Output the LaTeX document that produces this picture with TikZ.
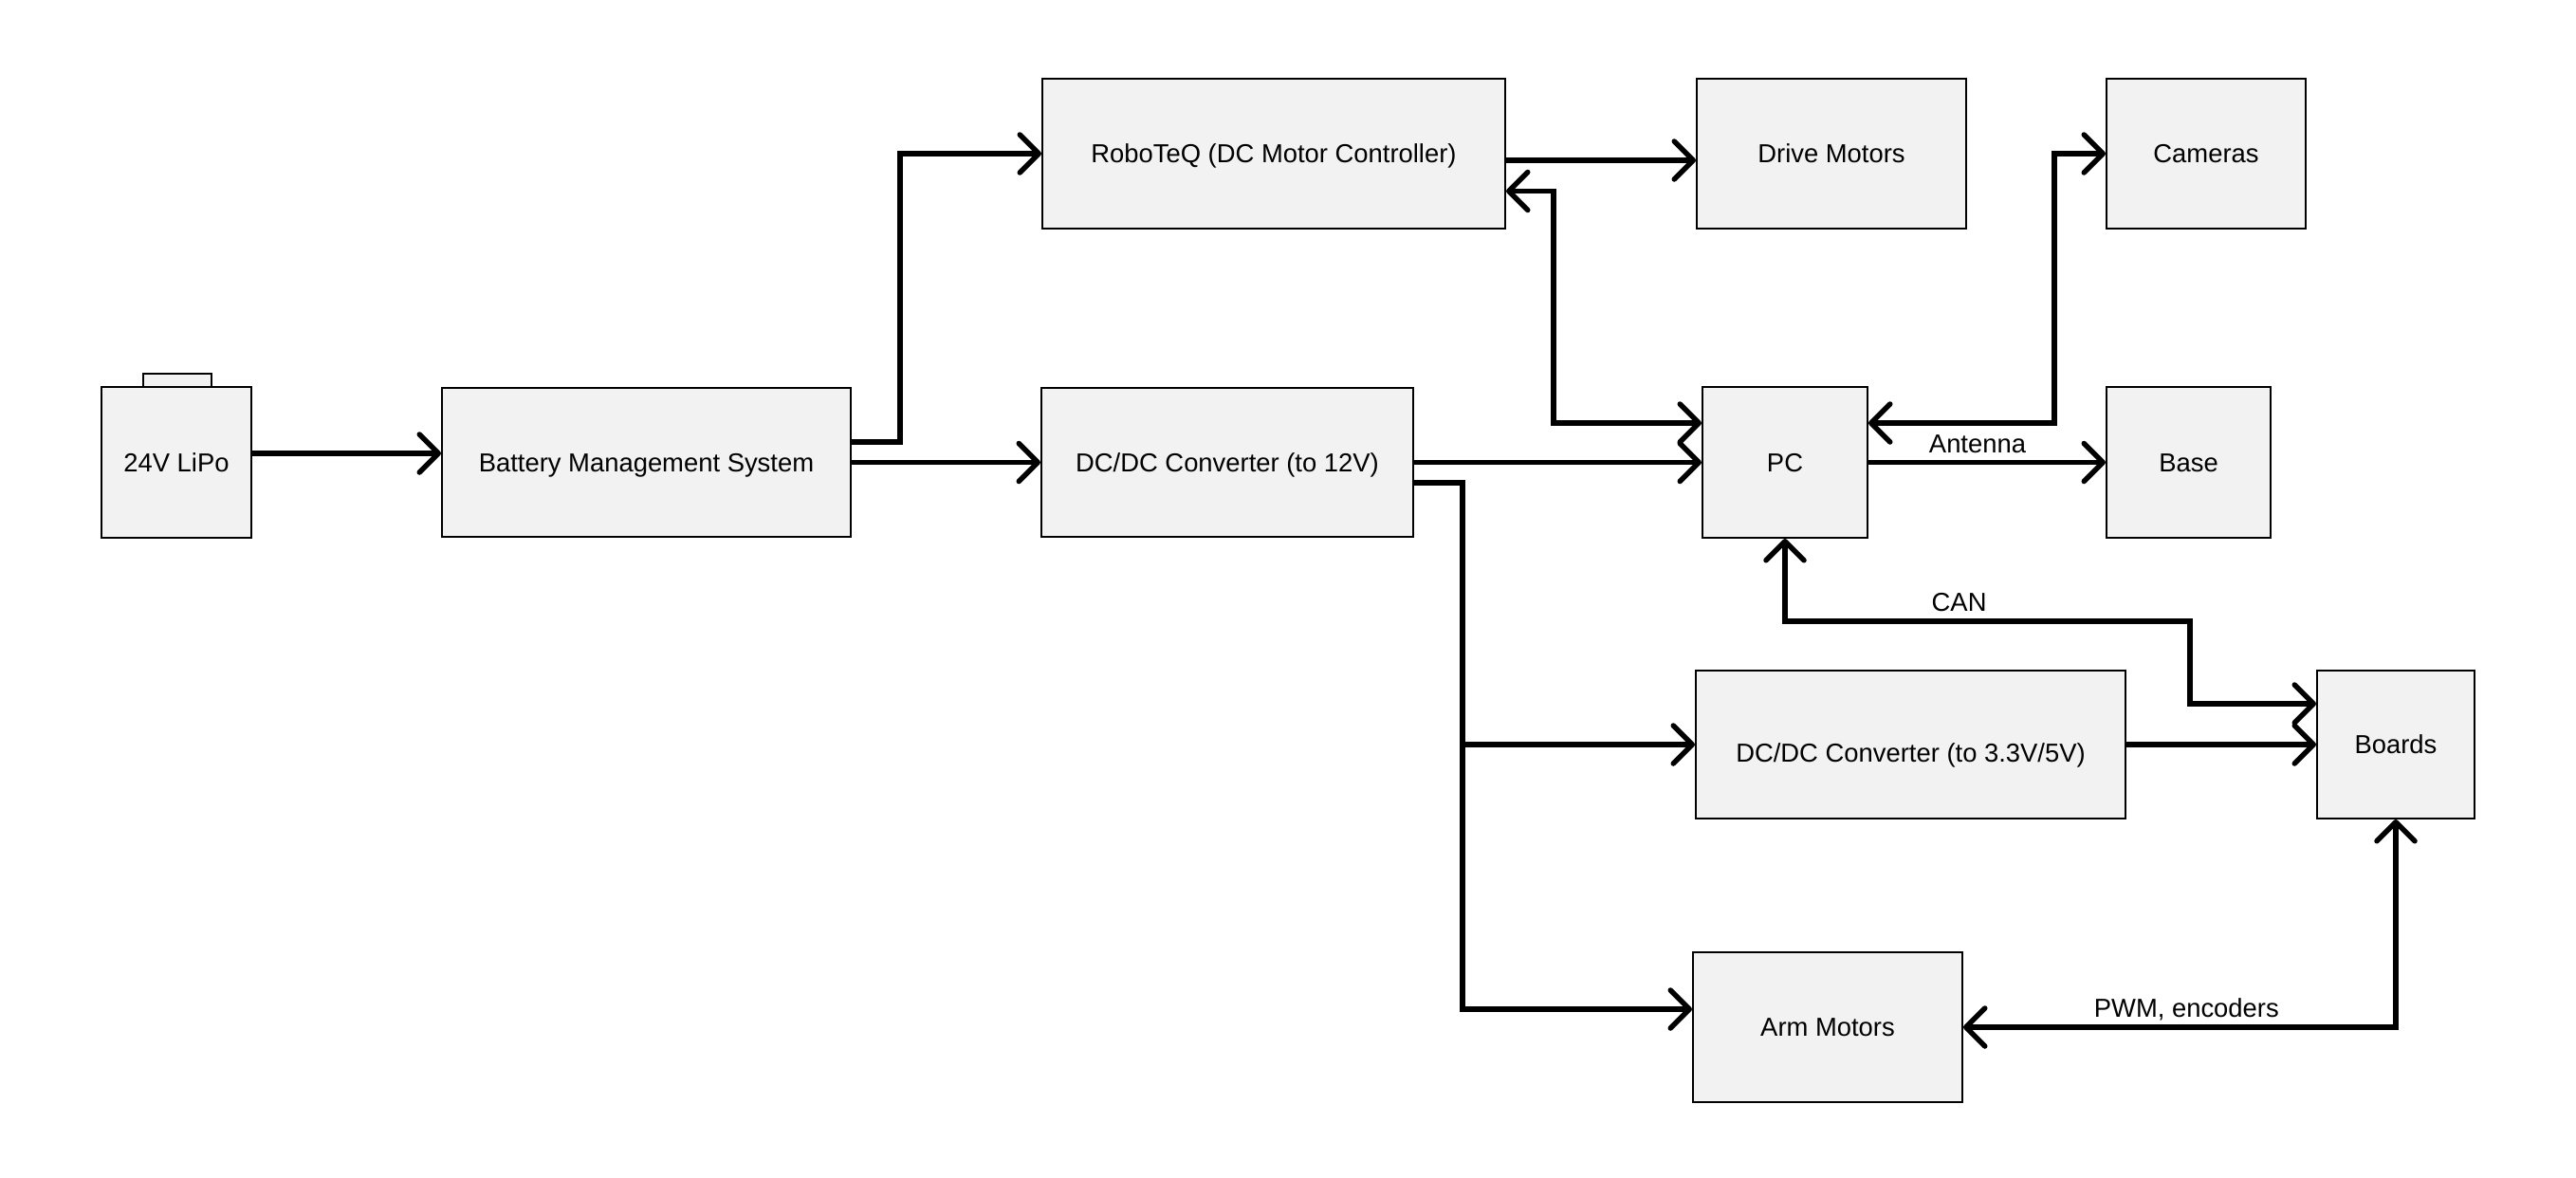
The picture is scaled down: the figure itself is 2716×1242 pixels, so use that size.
\documentclass[tikz,border=0pt]{standalone}
\usepackage{fontspec}
\setmainfont{Liberation Sans}
\usetikzlibrary{arrows.meta}
\definecolor{boxfill}{HTML}{F2F2F2}
\tikzset{
  blk/.style={draw=black, line width=1pt, fill=boxfill, rectangle, inner sep=0pt, text height=9.6pt, text depth=0pt, font=\fontsize{13.7}{16}\selectfont},
  conn/.style={line width=2.75pt, line join=miter},
  tip/.tip={Straight Barb[length=10pt,width=20pt,round]},
  arr/.style={conn, -tip},
  dbl/.style={conn, tip-tip},
  lbl/.style={anchor=base, yshift=5.25pt, inner sep=0pt, font=\fontsize{13.7}{16}\selectfont}
}
\begin{document}
\begin{tikzpicture}[x=0.5pt,y=-0.5pt]
\useasboundingbox[fill=white] (0,0) rectangle (2716,1242);
% battery tab
\draw[line width=1pt, fill=boxfill] (151,394) rectangle (223,408);
\node[blk, minimum width=79pt, minimum height=79.5pt] (bat) at (186,487.5) {24V LiPo};
\node[blk, minimum width=215.5pt, minimum height=78.5pt] (bms) at (681.5,487.5) {Battery Management System};
\node[blk, minimum width=244pt, minimum height=79pt] (robo) at (1343,162) {RoboTeQ (DC Motor Controller)};
\node[blk, minimum width=196pt, minimum height=78.5pt] (dc12) at (1294,487.5) {DC/DC Converter (to 12V)};
\node[blk, minimum width=142pt, minimum height=79pt] (drive) at (1931,162) {Drive Motors};
\node[blk, minimum width=105pt, minimum height=79pt] (cam) at (2326,162) {Cameras};
\node[blk, minimum width=87pt, minimum height=79.5pt] (pc) at (1882,487.5) {PC};
\node[blk, minimum width=86.5pt, minimum height=79.5pt] (base) at (2307.5,487.5) {Base};
\node[blk, minimum width=226.5pt, minimum height=78pt] (dc33) at (2014.5,785) {\raisebox{-4.5pt}{DC/DC Converter (to 3.3V/5V)}};
\node[blk, minimum width=83pt, minimum height=78pt] (boards) at (2526,785) {Boards};
\node[blk, minimum width=142pt, minimum height=79pt] (arm) at (1927,1083) {Arm Motors};

\draw[arr] ([yshift=4.75pt]bat.east) -- ([yshift=4.75pt]bms.west);
\draw[arr] ([yshift=10.75pt]bms.east) -- ++(51,0) |- (robo.west);
\draw[arr] (bms.east) -- (dc12.west);
\draw[arr] (dc12.east) -- (pc.west);
\draw[arr] ([yshift=-10.75pt]dc12.east) -- ++(51,0) coordinate (j) |- ([yshift=9.5pt]arm.west);
\draw[arr] (j |- dc33.west) -- (dc33.west);
\draw[arr] ([yshift=-3.5pt]robo.east) -- ([yshift=-3.5pt]drive.west);
\draw[dbl] ([yshift=20.75pt]pc.west) -- ++(-156,0) |- ([yshift=-19.75pt]robo.east);
\draw[dbl] ([yshift=20.75pt]pc.east) -- ++(196,0) |- (cam.west);
\draw[arr] (pc.east) -- node[lbl, pos=0.46] {Antenna} (base.west);
\draw[dbl] (pc.south) -- ++(0,87) -- node[lbl, pos=0.43] {CAN} ++(427,0) |- ([yshift=21.5pt]boards.west);
\draw[arr] (dc33.east) -- (boards.west);
\draw[dbl] (boards.south) |- node[lbl, pos=0.742] {PWM, encoders} (arm.east);
\end{tikzpicture}
\end{document}
